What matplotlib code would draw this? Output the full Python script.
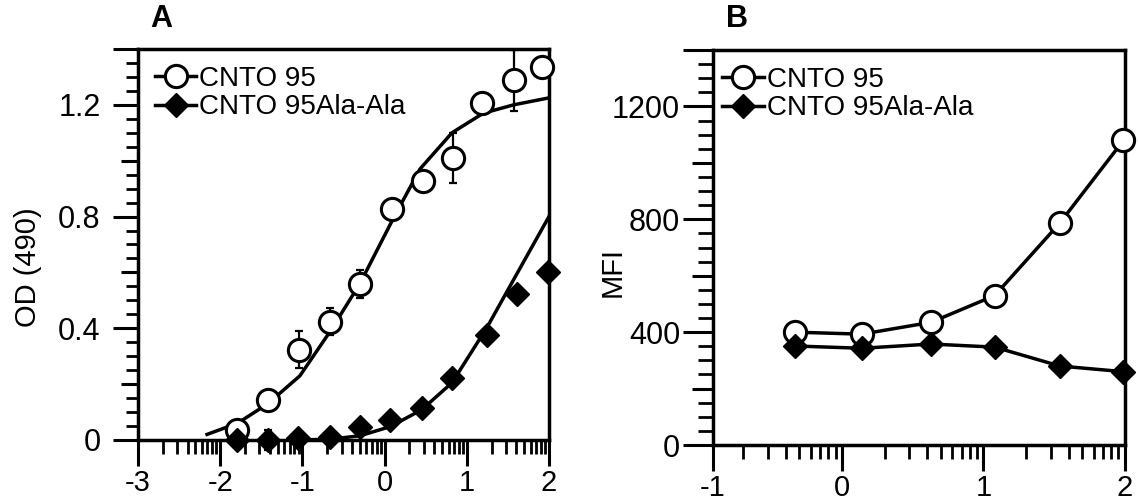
import numpy as np
import matplotlib.pyplot as plt
from matplotlib.ticker import FixedLocator, FixedFormatter, NullFormatter
from matplotlib.lines import Line2D

plt.rcParams['font.family'] = ['Liberation Sans', 'DejaVu Sans']
plt.rcParams['axes.unicode_minus'] = False

# panel A: ELISA, x = log10 concentration
a_wt_x = [-1.79, -1.415, -1.04, -0.664, -0.30, 0.086, 0.463, 0.836, 1.181, 1.574, 1.911]
a_wt_y = [0.036, 0.144, 0.324, 0.423, 0.559, 0.826, 0.929, 1.009, 1.207, 1.288, 1.336]
a_wt_err = [0.02, 0.02, 0.066, 0.048, 0.05, 0.02, 0.02, 0.09, 0.02, 0.11, 0.02]
a_aa_x = [-1.79, -1.415, -1.05, -0.664, -0.30, 0.066, 0.45, 0.816, 1.24, 1.607, 1.99]
a_aa_y = [0.0, 0.0, 0.006, 0.012, 0.048, 0.072, 0.114, 0.222, 0.375, 0.522, 0.60]
a_aa_err = [0.01, 0.036, 0.01, 0.01, 0.01, 0.01, 0.01, 0.01, 0.01, 0.01, 0.01]

# fitted curves
fit_wt_x = [-2.16, -1.79, -1.42, -1.03, -0.66, -0.30, 0.10, 0.43, 0.82, 1.20, 1.57, 2.0]
fit_wt_y = [0.02, 0.06, 0.13, 0.23, 0.39, 0.56, 0.79, 0.97, 1.10, 1.17, 1.20, 1.225]
fit_aa_x = [-1.03, -0.66, -0.30, 0.07, 0.45, 0.82, 1.24, 1.6, 2.0]
fit_aa_y = [0.0, 0.003, 0.015, 0.048, 0.108, 0.205, 0.40, 0.59, 0.80]

# panel B: MFI
b_x = [-0.33, 0.14, 0.63, 1.08, 1.54, 1.99]
b_wt = [400, 393, 435, 530, 787, 1080]
b_aa = [351, 343, 358, 347, 280, 260]

labels = ['CNTO 95', 'CNTO 95Ala-Ala']

circ = dict(marker='o', ms=16, mfc='white', mec='black', mew=2.2)
diam = dict(marker='D', ms=12, mfc='black', mec='black', mew=1)
LW = 2.5


def log_minor(start, stop):
    ticks = []
    for d in range(start, stop):
        for k in range(2, 10):
            ticks.append(d + np.log10(k))
    return ticks


def style_axes(ax, xmaj, xlab, xmin, ymaj, ylab, ymid, ymin, ylen, ypad):
    for s in ax.spines.values():
        s.set_linewidth(2.5)
    ax.xaxis.set_major_locator(FixedLocator(xmaj))
    ax.xaxis.set_major_formatter(FixedFormatter(xlab))
    ax.xaxis.set_minor_locator(FixedLocator(xmin))
    ax.xaxis.set_minor_formatter(NullFormatter())
    ax.yaxis.set_major_locator(FixedLocator(ymaj))
    ax.yaxis.set_major_formatter(FixedFormatter(ylab))
    ax.yaxis.set_minor_locator(FixedLocator(ymin))
    ax.tick_params(axis='x', which='major', direction='out', length=19, width=2.2,
                   labelsize=21, pad=2, top=False)
    ax.tick_params(axis='x', which='minor', direction='out', length=10, width=2.0, top=False)
    ax.tick_params(axis='y', which='major', direction='out', length=ylen[0], width=2.2,
                   labelsize=22, pad=ypad, right=False)
    ax.tick_params(axis='y', which='minor', direction='out', length=ylen[2], width=2.0, right=False)
    sec = ax.secondary_yaxis('left')
    sec.spines['left'].set_visible(False)
    sec.set_yticks(ymid)
    sec.tick_params(axis='y', direction='out', length=ylen[1], width=2.2, labelleft=False)


fig = plt.figure(figsize=(11.38, 5.04), dpi=100)
axA = fig.add_axes([0.1213, 0.127, 0.3611, 0.7758])
axB = fig.add_axes([0.6265, 0.117, 0.3620, 0.7837])

# ---- panel A
axA.plot(fit_wt_x, fit_wt_y, color='black', lw=LW, zorder=2)
axA.plot(fit_aa_x, fit_aa_y, color='black', lw=LW, zorder=2)
axA.errorbar(a_wt_x, a_wt_y, yerr=a_wt_err, fmt='none', ecolor='black',
             elinewidth=1.6, capsize=3, capthick=1.6, zorder=2, clip_on=False)
axA.errorbar(a_aa_x, a_aa_y, yerr=a_aa_err, fmt='none', ecolor='black',
             elinewidth=1.6, capsize=3, capthick=1.6, zorder=2, clip_on=False)
axA.plot(a_wt_x, a_wt_y, ls='none', zorder=3, clip_on=False, **circ)
axA.plot(a_aa_x, a_aa_y, ls='none', zorder=4, clip_on=False, **diam)
axA.set_xlim(-3, 2)
axA.set_ylim(0, 1.4)
style_axes(axA, [-3, -2, -1, 0, 1, 2], ['-3', '-2', '-1', '0', '1', '2'], log_minor(-3, 2),
           [0, 0.4, 0.8, 1.2, 1.4], ['0', '0.4', '0.8', '1.2', ''], [0.2, 0.6, 1.0],
           np.arange(0, 1.41, 0.05), (18, 12, 8.6), 9)
axA.set_ylabel('OD (490)', fontsize=21)
axA.yaxis.set_label_coords(-0.234, 0.442)

# ---- panel B
b_left = -0.912
axB.plot(b_x, b_wt, color='black', lw=LW, zorder=3, clip_on=False, **circ)
axB.plot(b_x, b_aa, color='black', lw=LW, zorder=4, clip_on=False, **diam)
axB.set_xlim(b_left, 2)
axB.set_ylim(0, 1400)
style_axes(axB, [b_left, 0, 1, 2], ['-1', '0', '1', '2'], log_minor(-1, 2),
           [0, 400, 800, 1200, 1400], ['0', '400', '800', '1200', ''], [200, 600, 1000],
           np.arange(0, 1401, 50), (21.6, 15, 10.8), 2)
axB.set_ylabel('MFI', fontsize=21)
axB.yaxis.set_label_coords(-0.209, 0.438)

for ax, x0 in ((axA, 0.0), (axB, -0.018)):
    handles = [Line2D([], [], color='black', lw=LW, **circ),
               Line2D([], [], color='black', lw=LW, **diam)]
    ax.legend(handles, labels, loc='upper left', bbox_to_anchor=(x0, 1.0), frameon=False,
              fontsize=20, handlelength=1.5, handletextpad=0.1, labelspacing=0.1,
              borderaxespad=0.2, numpoints=1)

fig.text(0.1415, 0.962, 'A', fontsize=22, fontweight='bold', ha='center', va='center')
fig.text(0.6475, 0.962, 'B', fontsize=22, fontweight='bold', ha='center', va='center')

fig.savefig('out.png', dpi=100)
